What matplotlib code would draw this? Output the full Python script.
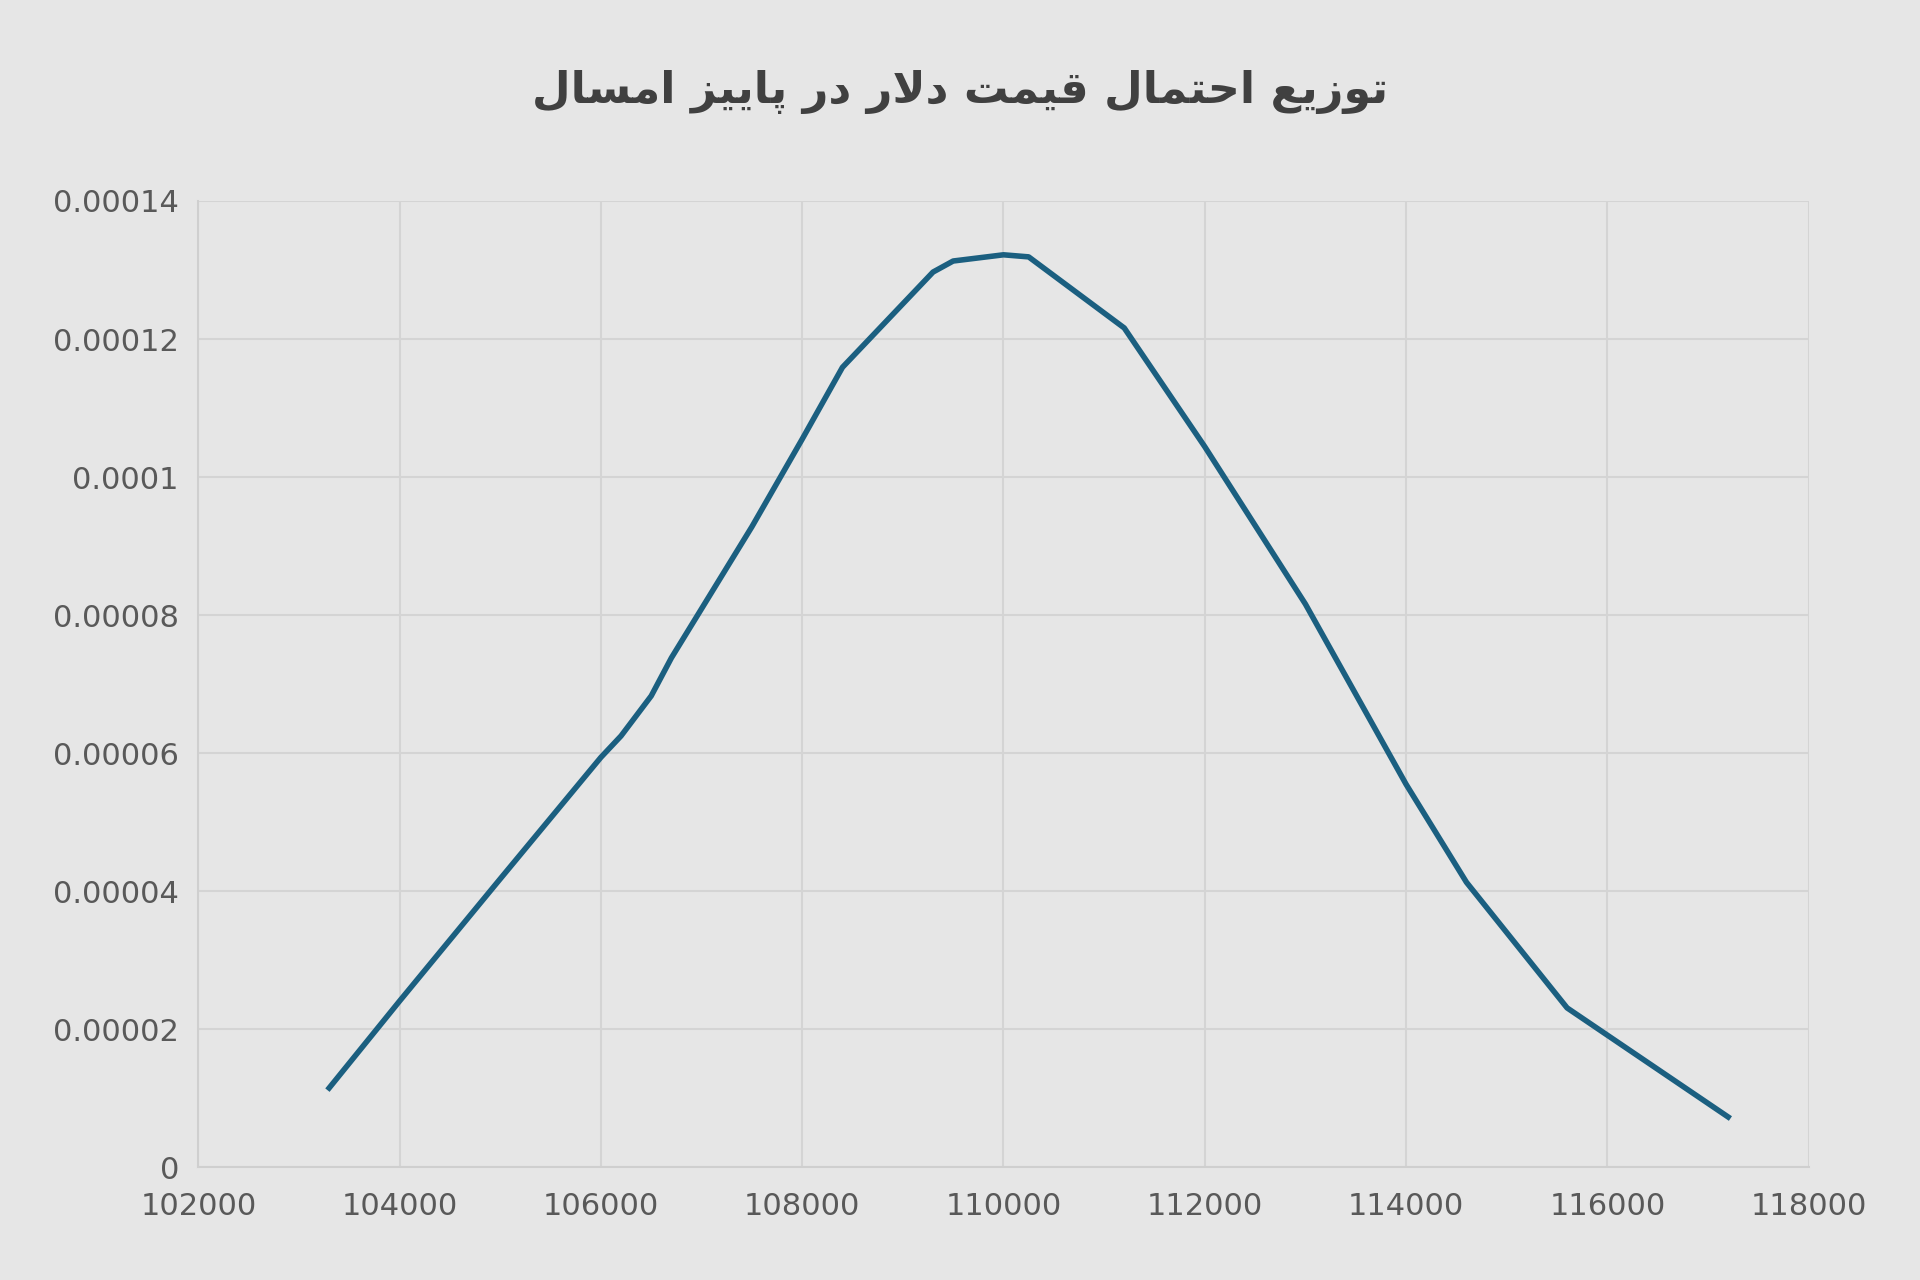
import matplotlib
matplotlib.use("Agg")
import matplotlib.pyplot as plt

# Persian title in visual order with presentation forms (matplotlib has no shaping)
words = [
    "\uFEDD\uFE8E\uFEB4\uFEE3\uFE8D",          # امسال
    "\uFEB0\uFBFF\uFBFE\uFE8E\uFB58",          # پاییز
    "\uFEAD\uFEA9",                            # در
    "\uFEAD\uFEFB\uFEA9",                      # دلار
    "\uFE96\uFEE4\uFBFF\uFED7",                # قیمت
    "\uFEDD\uFE8E\uFEE4\uFE98\uFEA3\uFE8D",    # احتمال
    "\uFECA\uFBFE\uFEAF\uFEEE\uFE97",          # توزیع
]
title = " ".join(words)

price = [103300, 104000, 105000, 106000, 106200, 106500, 106700, 107500, 108000,
         108400, 109300, 109500, 110000, 110250, 111200, 112000, 113000, 114000,
         114600, 115600, 117200]
density = [0.0000115, 0.0000241, 0.0000418, 0.0000594, 0.0000625, 0.0000683,
           0.0000738, 0.0000928, 0.0001055, 0.0001159, 0.0001297, 0.0001313,
           0.0001322, 0.0001319, 0.0001216, 0.0001044, 0.0000816, 0.0000555,
           0.0000413, 0.0000231, 0.0000073]

yticks = [0, 0.00002, 0.00004, 0.00006, 0.00008, 0.0001, 0.00012, 0.00014]
ylabels = ["0", "0.00002", "0.00004", "0.00006", "0.00008", "0.0001", "0.00012", "0.00014"]
xticks = list(range(102000, 118001, 2000))

bg = "#e6e6e6"
fig = plt.figure(figsize=(19.2, 12.8), dpi=100, facecolor=bg)
ax = fig.add_axes([0.1033, 0.088, 0.8387, 0.755], facecolor=bg)

ax.plot(price, density, color="#1b5f80", linewidth=4, solid_joinstyle="round")

ax.set_xlim(102000, 118000)
ax.set_ylim(0, 0.00014)
ax.set_xticks(xticks)
ax.set_xticklabels([str(v) for v in xticks])
ax.set_yticks(yticks)
ax.set_yticklabels(ylabels)
ax.tick_params(length=0, labelsize=22, labelcolor="#595959", pad=14)
ax.tick_params(axis="x", pad=18)
ax.grid(True, color="#d4d4d4", linewidth=1.5)
for s in ["top", "right"]:
    ax.spines[s].set_visible(False)
for s in ["left", "bottom"]:
    ax.spines[s].set_color("#cfcfcf")
    ax.spines[s].set_linewidth(1.5)

fig.text(0.5, 0.928, title, ha="center", va="center", fontsize=32,
         fontweight="bold", color="#404040", family=["DejaVu Sans"])

fig.savefig("out.png", dpi=100, facecolor=bg)
